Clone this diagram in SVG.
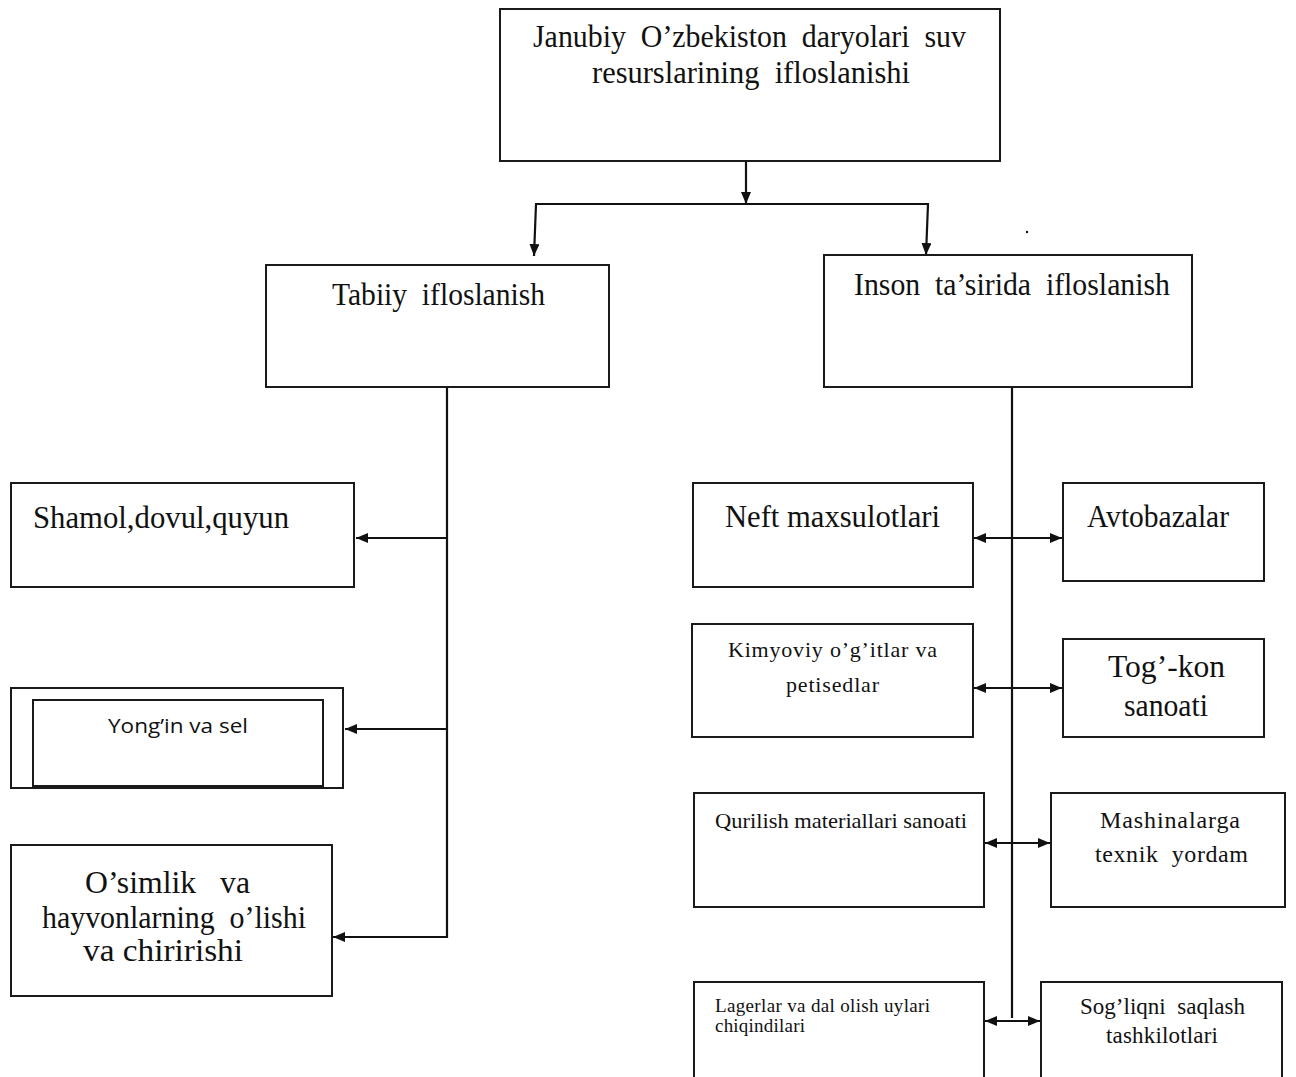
<svg xmlns="http://www.w3.org/2000/svg" width="1296" height="1077" viewBox="0 0 1296 1077">
<style>
.box{fill:#fff;stroke:#1a1a1a;stroke-width:2}
.t{font-family:"Liberation Serif","Times New Roman",serif;fill:#111}
.s{font-family:"Open Sans","Noto Sans","Liberation Sans",sans-serif;fill:#111}
.c{fill:none;stroke:#111;stroke-width:2.2}
.a{marker-end:url(#ah)}
.d{marker-start:url(#ah);marker-end:url(#ah)}
</style>
<defs>
<marker id="ah" viewBox="0 0 12 10" refX="12" refY="5" markerWidth="12" markerHeight="10" markerUnits="userSpaceOnUse" orient="auto-start-reverse">
<path d="M0,0 L12,5 L0,10 z" fill="#111"/>
</marker>
</defs>
<rect width="1296" height="1077" fill="#fff"/>

<g id="connectors">
<line class="c a" x1="746" y1="161" x2="746" y2="204"/>
<line class="c" x1="535" y1="204" x2="929" y2="204"/>
<line class="c a" x1="536" y1="204" x2="534" y2="256"/>
<line class="c a" x1="928" y1="204" x2="926" y2="255"/>
<line class="c" x1="447" y1="387" x2="447" y2="938"/>
<line class="c a" x1="448" y1="538" x2="356" y2="538"/>
<line class="c a" x1="448" y1="729" x2="345" y2="729"/>
<line class="c a" x1="448" y1="937" x2="333" y2="937"/>
<line class="c" x1="1012" y1="387" x2="1012" y2="1018"/>
<line class="c d" x1="974" y1="538" x2="1062" y2="538"/>
<line class="c d" x1="974" y1="688" x2="1062" y2="688"/>
<line class="c d" x1="985" y1="843" x2="1050" y2="843"/>
<line class="c d" x1="985" y1="1021" x2="1040" y2="1021"/>
<circle cx="1027" cy="232" r="1.2" fill="#111"/>
</g>

<g id="n-root">
<rect class="box" x="500" y="9" width="500" height="152"/>
<text class="t" x="533" y="47" font-size="31" textLength="433" lengthAdjust="spacingAndGlyphs" xml:space="preserve">Janubiy  O’zbekiston  daryolari  suv</text>
<text class="t" x="592" y="83" font-size="31" textLength="318" lengthAdjust="spacingAndGlyphs" xml:space="preserve">resurslarining  ifloslanishi</text>
</g>

<g id="n-tabiiy">
<rect class="box" x="266" y="265" width="343" height="122"/>
<text class="t" x="332" y="305" font-size="32" textLength="213" lengthAdjust="spacingAndGlyphs" xml:space="preserve">Tabiiy  ifloslanish</text>
</g>

<g id="n-inson">
<rect class="box" x="824" y="255" width="368" height="132"/>
<text class="t" x="854" y="295" font-size="32" textLength="316" lengthAdjust="spacingAndGlyphs" xml:space="preserve">Inson  ta’sirida  ifloslanish</text>
</g>

<g id="n-shamol">
<rect class="box" x="11" y="483" width="343" height="104"/>
<text class="t" x="33" y="528" font-size="32" textLength="256" lengthAdjust="spacingAndGlyphs">Shamol,dovul,quyun</text>
</g>

<g id="n-yongin">
<rect class="box" x="11" y="688" width="332" height="100"/>
<rect class="box" x="33" y="700" width="290" height="86"/>
<text class="s" x="108" y="733" font-size="20" textLength="140" lengthAdjust="spacingAndGlyphs">Yong’in va sel</text>
</g>

<g id="n-osimlik">
<rect class="box" x="11" y="845" width="321" height="151"/>
<text class="t" x="85" y="893" font-size="32" textLength="165" lengthAdjust="spacingAndGlyphs" xml:space="preserve">O’simlik   va</text>
<text class="t" x="42" y="928" font-size="32" textLength="264" lengthAdjust="spacingAndGlyphs" xml:space="preserve">hayvonlarning  o’lishi</text>
<text class="t" x="83" y="961" font-size="32" textLength="160" lengthAdjust="spacingAndGlyphs">va chiririshi</text>
</g>

<g id="n-neft">
<rect class="box" x="693" y="483" width="280" height="104"/>
<text class="t" x="725" y="527" font-size="32" textLength="215" lengthAdjust="spacingAndGlyphs">Neft maxsulotlari</text>
</g>

<g id="n-avto">
<rect class="box" x="1063" y="483" width="201" height="98"/>
<text class="t" x="1087" y="527" font-size="32" textLength="142" lengthAdjust="spacingAndGlyphs">Avtobazalar</text>
</g>

<g id="n-kimyo">
<rect class="box" x="692" y="624" width="281" height="113"/>
<text class="t" x="728" y="657" font-size="22" textLength="209" lengthAdjust="spacing">Kimyoviy o’g’itlar va</text>
<text class="t" x="786" y="692" font-size="22" textLength="93" lengthAdjust="spacing">petisedlar</text>
</g>

<g id="n-togkon">
<rect class="box" x="1063" y="639" width="201" height="98"/>
<text class="t" x="1108" y="677" font-size="32" textLength="117" lengthAdjust="spacingAndGlyphs">Tog’-kon</text>
<text class="t" x="1124" y="716" font-size="32" textLength="84" lengthAdjust="spacingAndGlyphs">sanoati</text>
</g>

<g id="n-qurilish">
<rect class="box" x="694" y="793" width="290" height="114"/>
<text class="t" x="715" y="828" font-size="22" textLength="252" lengthAdjust="spacingAndGlyphs">Qurilish materiallari sanoati</text>
</g>

<g id="n-mashina">
<rect class="box" x="1051" y="793" width="234" height="114"/>
<text class="t" x="1100" y="828" font-size="24" textLength="140" lengthAdjust="spacing">Mashinalarga</text>
<text class="t" x="1095" y="862" font-size="24" textLength="153" lengthAdjust="spacing" xml:space="preserve">texnik  yordam</text>
</g>

<g id="n-lager">
<rect class="box" x="694" y="982" width="290" height="100"/>
<text class="t" x="715" y="1012" font-size="19" textLength="215" lengthAdjust="spacing">Lagerlar va dal olish uylari</text>
<text class="t" x="715" y="1032" font-size="19" textLength="90" lengthAdjust="spacing">chiqindilari</text>
</g>

<g id="n-sogliq">
<rect class="box" x="1041" y="982" width="241" height="100"/>
<text class="t" x="1080" y="1014" font-size="23" textLength="165" lengthAdjust="spacing" xml:space="preserve">Sog’liqni  saqlash</text>
<text class="t" x="1106" y="1043" font-size="23" textLength="112" lengthAdjust="spacing">tashkilotlari</text>
</g>
</svg>
